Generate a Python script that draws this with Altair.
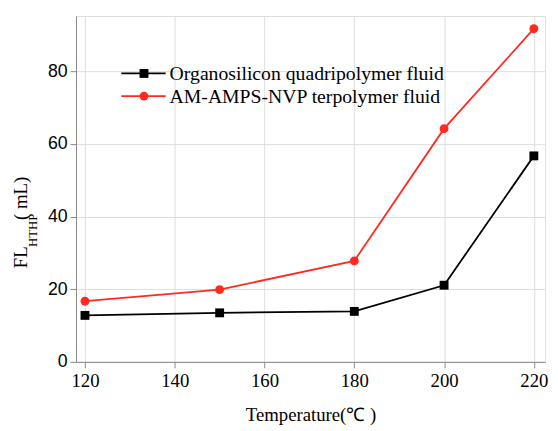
import altair as alt
import pandas as pd

temps = [120, 150, 180, 200, 220]
organosilicon = [12.8, 13.5, 13.9, 21.1, 56.7]
terpolymer = [16.7, 19.9, 27.8, 64.2, 91.7]
series_names = ["Organosilicon quadripolymer fluid", "AM-AMPS-NVP terpolymer fluid"]
x_ticks = [120, 140, 160, 180, 200, 220]
y_ticks = [0, 20, 40, 60, 80]

colors = ["#000000", "#ff2a1f"]
shapes = ["square", "circle"]

df = pd.DataFrame({
    "T": temps * 2,
    "FL": organosilicon + terpolymer,
    "series": [series_names[0]] * len(temps) + [series_names[1]] * len(temps),
})

SERIF = "Liberation Serif"
SANS = "Liberation Sans"

x = alt.X("T:Q",
          scale=alt.Scale(domain=[118, 222.5], nice=False, zero=False),
          axis=alt.Axis(values=x_ticks, title="Temperature(℃ )", labelFont=SERIF,
                        labelFontSize=19, titleFont=SERIF, titleFontSize=19,
                        titleFontWeight="normal", labelPadding=4, titlePadding=15,
                        tickSize=6))
y = alt.Y("FL:Q",
          scale=alt.Scale(domain=[0, 95.2], nice=False),
          axis=alt.Axis(values=y_ticks, title=None, labelFont=SANS, labelFontSize=18,
                        labelPadding=3, tickSize=6))
color = alt.Color("series:N", scale=alt.Scale(domain=series_names, range=colors), legend=None)
shape = alt.Shape("series:N", scale=alt.Scale(domain=series_names, range=shapes), legend=None)

lines = alt.Chart(df).mark_line(strokeWidth=1.8).encode(x=x, y=y, color=color)
points = alt.Chart(df).mark_point(filled=True, size=81, opacity=1).encode(
    x=x, y=y, color=color, shape=shape)

layers = [lines, points]

# manual legend
leg_y = [58.3, 81.3]
for i, name in enumerate(series_names):
    d = pd.DataFrame({"series": [name]})
    layers.append(alt.Chart(d).mark_rule(color=colors[i], strokeWidth=1.8).encode(
        x=alt.value(46), x2=alt.value(91), y=alt.value(leg_y[i])))
    layers.append(alt.Chart(d).mark_point(shape=shapes[i], filled=True, size=81,
                                          color=colors[i], opacity=1).encode(
        x=alt.value(69), y=alt.value(leg_y[i])))
    layers.append(alt.Chart(d).mark_text(align="left", baseline="middle", font=SERIF,
                                         fontSize=20, color="black").encode(
        x=alt.value(95), y=alt.value(leg_y[i] + 1), text="series:N"))

# y-axis title with subscript
one = pd.DataFrame({"a": [0]})
layers.append(alt.Chart(one).mark_text(angle=270, align="left", baseline="alphabetic",
                                       font=SERIF, fontSize=19, color="black", text="FL").encode(
    x=alt.value(-49.6), y=alt.value(256)))
layers.append(alt.Chart(one).mark_text(angle=270, align="left", baseline="alphabetic",
                                       font=SERIF, fontSize=13, color="black", text="HTHP").encode(
    x=alt.value(-39.5), y=alt.value(234.5)))
layers.append(alt.Chart(one).mark_text(angle=270, align="left", baseline="alphabetic",
                                       font=SERIF, fontSize=19, color="black", text="(  mL)").encode(
    x=alt.value(-49.6), y=alt.value(207)))

chart = alt.layer(*layers).properties(
    width=476, height=351,
    autosize=alt.AutoSizeParams(type="none"),
    padding={"left": 69, "top": 5, "right": 5, "bottom": 66},
).configure_view(stroke=None).configure_axis(
    grid=False, domainColor="black", domainWidth=1.5, tickColor="black", tickWidth=1.5,
    labelColor="black", titleColor="black",
).configure(background="white")

chart.save("out.html", embed_options={"renderer": "svg", "actions": False})
